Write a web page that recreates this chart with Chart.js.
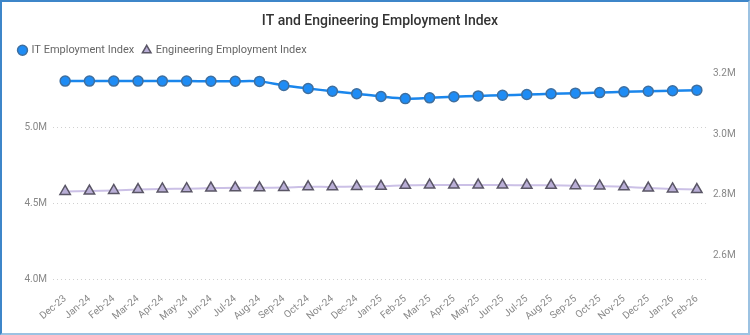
<!DOCTYPE html>
<html>
<head>
<meta charset="utf-8">
<script src="https://cdn.jsdelivr.net/npm/chart.js@4.4.1/dist/chart.umd.min.js"></script>
<style>
  html, body { margin: 0; padding: 0; background: #fff; }
  #wrap { position: relative; width: 750px; height: 335px; }
  #frame {
    position: absolute; left: 0; top: 0; width: 750px; height: 335px; box-sizing: border-box;
    border-top: 2px solid #3d86c9; border-left: 2px solid #3d86c9;
    border-right: 2px solid #9cc2e2; border-bottom: 2px solid #9cc2e2;
    pointer-events: none;
  }
  canvas { position: absolute; left: 0; top: 0; }
</style>
</head>
<body>
<div id="wrap">
  <canvas id="c" width="750" height="335"></canvas>
  <div id="frame"></div>
</div>
<script>
// ── Datos ────────────────────────────────────────────────────
const months = ['Dec-23', 'Jan-24', 'Feb-24', 'Mar-24', 'Apr-24', 'May-24', 'Jun-24', 'Jul-24', 'Aug-24',
  'Sep-24', 'Oct-24', 'Nov-24', 'Dec-24', 'Jan-25', 'Feb-25', 'Mar-25', 'Apr-25', 'May-25', 'Jun-25',
  'Jul-25', 'Aug-25', 'Sep-25', 'Oct-25', 'Nov-25', 'Dec-25', 'Jan-26', 'Feb-26'];

// IT (eje izquierdo), en millones
const itIndex = [5.309, 5.309, 5.309, 5.309, 5.309, 5.309, 5.308, 5.308, 5.307,
  5.280, 5.260, 5.242, 5.225, 5.207, 5.193, 5.198, 5.205, 5.211, 5.215,
  5.220, 5.225, 5.229, 5.233, 5.238, 5.242, 5.245, 5.249];

// Ingeniería (eje derecho), en millones
const engIndex = [2.811, 2.812, 2.814, 2.817, 2.819, 2.820, 2.822, 2.823, 2.823,
  2.824, 2.826, 2.826, 2.827, 2.828, 2.831, 2.832, 2.832, 2.832, 2.832,
  2.831, 2.831, 2.830, 2.829, 2.826, 2.822, 2.819, 2.817];

const leftTicks = [4.0, 4.5, 5.0];
const rightTicks = [2.6, 2.8, 3.0, 3.2];

const FONT = 'Roboto, "Open Sans", sans-serif';
const fmtM = v => v.toFixed(1) + 'M';

new Chart(document.getElementById('c').getContext('2d'), {
  type: 'line',
  data: {
    labels: months,
    datasets: [
      {
        label: 'IT Employment Index', data: itIndex, yAxisID: 'yL',
        borderColor: '#1a86ec', borderWidth: 2.5, tension: 0.3,
        pointStyle: 'circle', pointRadius: 5, pointBackgroundColor: '#1e8cf5',
        pointBorderColor: '#3f6f9f', pointBorderWidth: 1.5
      },
      {
        label: 'Engineering Employment Index', data: engIndex, yAxisID: 'yR',
        borderColor: '#cbc0e6', borderWidth: 2, tension: 0.3,
        pointStyle: 'triangle', pointRadius: 6, pointBackgroundColor: '#b9aed6',
        pointBorderColor: '#5a5666', pointBorderWidth: 1.5
      }
    ]
  },
  options: {
    responsive: false, animation: false,
    layout: { padding: { top: 9, left: 10, right: 0, bottom: 0 } },
    plugins: {
      title: {
        display: true, text: 'IT and Engineering Employment Index', color: '#333',
        font: { family: FONT, size: 14, weight: '500' }, padding: { top: 4, bottom: 6 }
      },
      legend: {
        align: 'start',
        labels: {
          usePointStyle: true, boxWidth: 7, boxHeight: 7, padding: 9, color: '#666',
          font: { family: FONT, size: 11 }
        }
      },
      tooltip: { enabled: false }
    },
    scales: {
      x: {
        offset: true,
        grid: { display: false }, border: { display: false },
        ticks: { color: '#888', font: { family: FONT, size: 10 }, minRotation: 40, maxRotation: 40, autoSkip: false, padding: 2 },
        afterFit: s => { s.height = 52; }
      },
      yL: {
        position: 'left', min: 3.974, max: 5.41,
        afterBuildTicks: s => { s.ticks = leftTicks.map(v => ({ value: v })); },
        grid: { color: '#d0d0d0', lineWidth: 1, drawTicks: false },
        border: { display: false, dash: [1, 3] },
        ticks: { color: '#888', font: { family: FONT, size: 10 }, padding: 6, callback: fmtM },
        afterFit: s => { s.width = 43; }
      },
      yR: {
        position: 'right', min: 2.508, max: 3.2265,
        afterBuildTicks: s => { s.ticks = rightTicks.map(v => ({ value: v })); },
        grid: { display: false, drawTicks: false }, border: { display: false },
        ticks: { color: '#888', font: { family: FONT, size: 10 }, padding: 4, callback: fmtM },
        afterFit: s => { s.width = 41; }
      }
    }
  }
});
</script>
</body>
</html>
